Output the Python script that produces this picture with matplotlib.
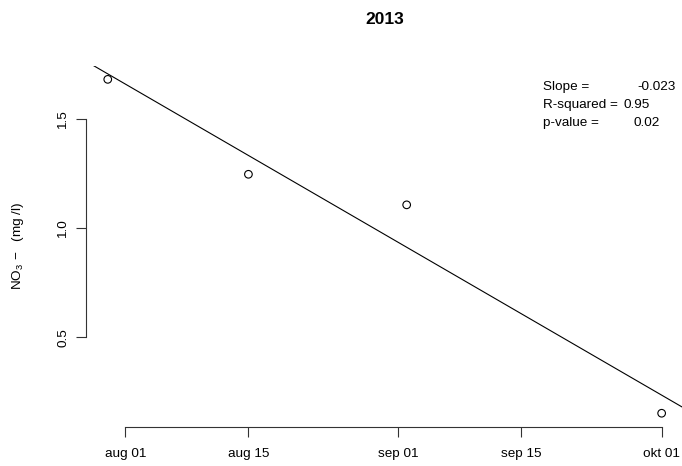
import numpy as np
import matplotlib
matplotlib.use("Agg")
import matplotlib.pyplot as plt
import matplotlib.dates as mdates
from datetime import date

plt.rcParams['font.family'] = ['Liberation Sans', 'DejaVu Sans']
plt.rcParams['mathtext.fontset'] = 'custom'
plt.rcParams['mathtext.rm'] = 'Liberation Sans'
plt.rcParams['mathtext.default'] = 'regular'

# Sampling dates and nitrate concentrations
sample_dates = [date(2013, 7, 30), date(2013, 8, 15), date(2013, 9, 2), date(2013, 10, 1)]
no3_values = [1.682, 1.247, 1.107, 0.152]

tick_dates = [date(2013, 8, 1), date(2013, 8, 15), date(2013, 9, 1), date(2013, 9, 15), date(2013, 10, 1)]
tick_labels = ["aug 01", "aug 15", "sep 01", "sep 15", "okt 01"]
y_ticks = [0.5, 1.0, 1.5]
y_tick_labels = ["0.5", "1.0", "1.5"]

stat_names = ["Slope =", "R-squared =", "p-value ="]
stat_values = ["-0.023", "0.95", "0.02"]
title = "2013"

W, H = 682, 466
FS = 9.7
fig = plt.figure(figsize=(W / 100, H / 100), dpi=100)
left, right, top, bottom = 85.6, 683.8, 66.0, 426.6
ax = fig.add_axes([left / W, 1 - bottom / H, (right - left) / W, (bottom - top) / H])

x = mdates.date2num(sample_dates)
y = np.array(no3_values)

ax.scatter(x, y, s=30, facecolors='none', edgecolors='black', linewidths=0.8, zorder=3)

# axis ranges padded by 4% like R's default
def padded(v):
    lo, hi = float(np.min(v)), float(np.max(v))
    d = (hi - lo) * 0.04
    return lo - d, hi + d

ax.set_xlim(*padded(x))
ax.set_ylim(*padded(y))

# least-squares fit line across the plot region
slope, intercept = np.polyfit(x, y, 1)
xl = np.array(ax.get_xlim())
ax.plot(xl, intercept + slope * xl, color='black', lw=0.8, clip_on=True)

for s in ['top', 'right']:
    ax.spines[s].set_visible(False)
for s in ['left', 'bottom']:
    ax.spines[s].set_linewidth(0.8)
    ax.spines[s].set_color('#333333')

tx = mdates.date2num(tick_dates)
ax.spines['bottom'].set_bounds(tx[0], tx[-1])
ax.spines['left'].set_bounds(y_ticks[0], y_ticks[-1])

ax.set_xticks(tx)
ax.set_xticklabels(tick_labels)
ax.set_yticks(y_ticks)
ax.set_yticklabels(y_tick_labels, rotation=90, va='center')
ax.tick_params(axis='both', direction='out', length=7.2, width=0.8, color='#333333',
               labelsize=FS)
ax.tick_params(axis='x', pad=8.5)
ax.tick_params(axis='y', pad=4.5)

fig.text(18 / W, 1 - ((top + bottom) / 2) / H, r'NO$_3$$\,-$  (mg /l)', rotation=90,
         ha='center', va='center', fontsize=FS)

fig.text((left + right) / 2 / W, 1 - 20 / H, title, ha='center', va='center',
         fontsize=12.5, fontweight='bold')

baselines = [90, 108, 126]
for name, b in zip(stat_names, baselines):
    fig.text(543 / W, 1 - b / H, name, ha='left', va='baseline', fontsize=FS)
fig.text(676 / W, 1 - baselines[0] / H, stat_values[0], ha='right', va='baseline', fontsize=FS)
fig.text(623 / W, 1 - baselines[1] / H, stat_values[1], ha='left', va='baseline', fontsize=FS)
fig.text(633 / W, 1 - baselines[2] / H, stat_values[2], ha='left', va='baseline', fontsize=FS)

fig.savefig("out.png", dpi=100)
